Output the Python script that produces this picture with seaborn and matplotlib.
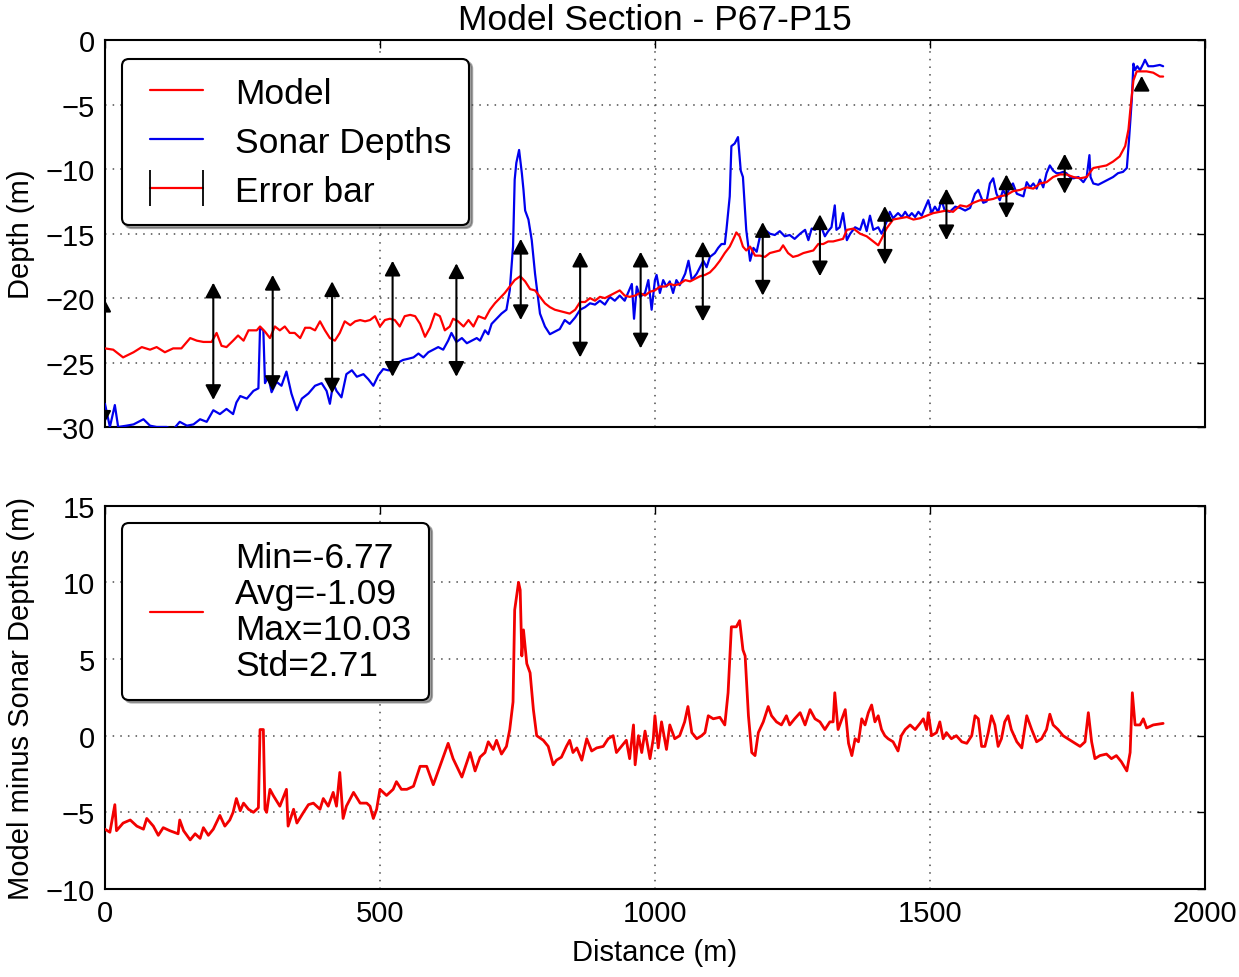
import matplotlib
matplotlib.use("Agg")
import matplotlib.pyplot as plt
from matplotlib.lines import Line2D
import numpy as np
import pandas as pd
import seaborn as sns

# ---------------- data ----------------
model_x = [0, 15, 33, 52, 67, 82, 94, 109, 124, 139, 155, 167, 179, 194, 203, 212, 221, 233, 242, 252,
           261, 270, 276, 282, 291, 300, 309, 318, 327, 336, 345, 355, 364, 373, 382, 391, 400, 409, 418, 427,
           436, 446, 455, 464, 473, 482, 491, 500, 509, 518, 527, 536, 545, 555, 564, 573, 582, 591, 600, 609,
           618, 627, 633, 642, 652, 661, 670, 679,
           691, 700, 709, 718, 727, 736, 745, 755, 764, 773, 782, 791, 800, 809, 818, 827, 836, 845, 855, 864,
           873, 882, 891, 900, 909, 918, 927, 936, 945, 954, 964, 973, 982, 991, 1000, 1009, 1018, 1027, 1036, 1045,
           1055, 1064, 1073, 1082, 1091, 1100, 1109, 1118, 1127, 1136, 1145, 1148, 1154, 1160, 1166, 1173, 1182, 1191, 1200, 1209,
           1218, 1227, 1233, 1242, 1251, 1260, 1270, 1279, 1288, 1297, 1306, 1315, 1324, 1333, 1342,
           1349, 1361, 1373, 1385, 1397, 1406, 1412, 1421, 1433, 1445, 1458, 1470, 1482, 1494, 1506, 1518, 1530, 1542, 1555, 1567,
           1579, 1591, 1603, 1615, 1627, 1639, 1651, 1664, 1676, 1688, 1700, 1712, 1724, 1736, 1748, 1761, 1773, 1785, 1797, 1809,
           1821, 1833, 1845, 1855, 1861, 1865, 1870, 1876, 1882, 1894, 1906, 1918, 1924]
model_depth = [-23.9, -24.0, -24.6, -24.2, -23.8, -24.0, -23.8, -24.2, -23.9, -23.9, -23.1, -23.3, -23.4, -23.4, -22.7, -23.7, -23.8, -23.3, -22.9, -23.3,
               -22.5, -22.5, -22.5, -22.2, -22.6, -23.1, -22.2, -22.5, -22.2, -22.7, -22.7, -23.1, -22.3, -22.3, -22.5, -21.8, -22.5, -23.1, -23.3, -22.7,
               -21.8, -22.1, -21.8, -21.7, -21.8, -21.7, -21.4, -22.2, -21.7, -21.6, -21.7, -22.2, -21.4, -21.3, -21.4, -22.0, -23.0, -22.3, -21.2, -21.4,
               -22.5, -22.2, -21.6, -21.8, -22.2, -21.7, -22.2, -21.4,
               -21.6, -20.9, -20.4, -20.0, -19.6, -19.1, -18.6, -18.3, -18.7, -19.3, -19.4, -19.9, -20.4, -20.7, -20.9, -21.0, -21.1, -21.2, -20.9, -20.3,
               -20.3, -20.0, -20.2, -19.9, -20.0, -19.8, -19.6, -19.4, -19.8, -19.9, -19.8, -19.6, -19.8, -19.5, -19.4, -19.1, -19.1, -18.9, -19.0, -18.9,
               -18.6, -18.7, -18.5, -18.3, -18.2, -18.0, -17.6, -17.1, -16.5, -16.0, -15.2, -14.9, -15.2, -16.0, -16.3, -16.0, -16.7, -16.7, -16.8, -16.5,
               -16.4, -16.3, -15.9, -16.5, -16.8, -16.7, -16.5, -16.4, -16.3, -15.8, -15.8, -15.6, -15.6, -15.5, -15.4,
               -14.7, -14.6, -15.0, -15.2, -15.6, -15.9, -15.4, -14.6, -13.9, -13.8, -13.7, -13.9, -13.8, -13.6, -13.4, -13.3, -13.2, -13.3, -12.8, -12.9,
               -12.6, -12.4, -12.4, -12.3, -12.1, -12.0, -11.7, -11.6, -11.4, -11.5, -11.1, -11.0, -10.6, -10.4, -10.4, -10.6, -10.7, -10.6, -9.9, -9.8,
               -9.7, -9.4, -9.0, -8.2, -6.9, -5.1, -3.1, -2.4, -2.4, -2.4, -2.5, -2.8, -2.8]

sonar_x = [0, 9, 18, 24, 39, 52, 70, 82, 94, 112, 124, 136, 149, 161, 173, 185, 197, 209, 221, 233,
           239, 246, 258, 270, 279, 282, 288, 291, 297, 303, 312, 321, 330, 339, 349, 358, 370, 382, 394, 403,
           409, 415, 421, 430, 439, 449, 458, 470, 479, 488, 497, 506, 515, 524, 533, 542, 552, 561, 570, 579,
           588, 597, 606, 615, 624, 630, 639, 649, 658, 667, 676,
           682, 691, 697, 703, 712, 721, 730, 736, 742, 745, 748, 753, 758, 761, 764, 770, 776, 782, 791, 800,
           809, 818, 827, 836, 845, 855, 864, 873, 882, 891, 900, 909, 918, 927, 936, 945, 951, 958, 962, 967,
           973, 982, 988, 994, 1000, 1003, 1009, 1015, 1021, 1027, 1033, 1039, 1045, 1055, 1061, 1067, 1076, 1082, 1088, 1094,
           1100, 1109, 1115, 1121, 1127, 1130, 1136, 1139, 1145, 1151, 1156, 1160, 1166, 1173, 1179, 1185, 1191, 1197, 1203, 1209,
           1218, 1227, 1236, 1245, 1254, 1264, 1273, 1279, 1285, 1291, 1300, 1309, 1315, 1321, 1327, 1330, 1336, 1342,
           1349, 1355, 1364, 1373, 1379, 1385, 1391, 1397, 1406, 1412, 1421, 1427, 1433, 1442, 1449, 1455, 1461, 1467, 1473, 1479,
           1485, 1491, 1497, 1503, 1509, 1515, 1521, 1527, 1536, 1546, 1555, 1564, 1573, 1582, 1588, 1597, 1603, 1609, 1615, 1621,
           1627, 1633, 1639, 1645, 1651, 1658, 1664, 1670, 1676, 1682, 1688, 1694, 1700, 1706, 1712, 1718, 1724, 1730, 1736, 1742,
           1748, 1755, 1761, 1770, 1779, 1785, 1790, 1792, 1797, 1806, 1815, 1824, 1833, 1842, 1851, 1858, 1862, 1867, 1870, 1873,
           1877, 1882, 1888, 1891, 1897, 1906, 1918, 1924]
sonar_depth = [-28.2, -30.0, -28.3, -30.0, -29.9, -29.8, -29.4, -29.9, -30.0, -30.0, -30.2, -29.6, -29.9, -29.8, -29.4, -29.6, -28.7, -29.0, -28.6, -29.0,
               -28.1, -27.6, -27.8, -27.2, -27.0, -22.3, -22.5, -26.6, -26.1, -27.3, -26.5, -26.8, -25.7, -27.4, -28.7, -27.8, -27.4, -26.8, -26.6, -27.2,
               -28.2, -26.6, -27.2, -27.7, -25.9, -25.6, -26.1, -25.9, -26.3, -26.8, -26.0, -25.5, -25.6, -25.6, -25.0, -24.8, -24.7, -24.6, -24.3, -24.6,
               -24.2, -24.0, -23.8, -24.0, -23.3, -22.7, -23.4, -23.1, -23.5, -23.3, -23.1,
               -23.3, -22.5, -22.8, -22.0, -21.6, -21.2, -20.9, -19.4, -16.0, -10.8, -9.5, -8.5, -10.3, -11.6, -13.2, -13.9, -15.5, -18.1, -21.2, -22.2,
               -22.8, -22.6, -22.4, -21.7, -22.0, -21.5, -20.9, -20.7, -20.4, -20.5, -20.2, -20.5, -19.9, -20.2, -19.8, -20.2, -19.6, -18.9, -21.6, -19.1,
               -19.9, -19.6, -18.6, -20.9, -18.6, -18.2, -19.6, -18.6, -19.1, -18.7, -19.6, -18.6, -19.0, -18.1, -17.1, -18.6, -18.1, -17.6, -17.1, -17.6,
               -16.8, -16.5, -16.1, -15.8, -15.8, -14.7, -12.1, -8.2, -8.0, -7.5, -10.1, -10.6, -14.7, -17.1, -16.1, -16.4, -15.2, -15.2, -14.8, -15.0,
               -15.1, -14.8, -15.2, -15.1, -15.4, -15.0, -14.7, -15.5, -14.6, -14.7, -14.2, -15.2, -14.8, -14.5, -12.8, -14.7, -14.5, -13.4,
               -15.5, -15.0, -14.5, -14.7, -13.9, -14.8, -13.6, -14.7, -14.5, -15.0, -14.1, -13.3, -13.8, -13.4, -13.7, -13.3, -13.7, -13.4, -13.7, -13.3,
               -13.6, -13.0, -12.4, -13.4, -12.9, -13.3, -12.4, -13.2, -13.3, -12.9, -13.0, -13.2, -13.0, -11.9, -11.6, -12.6, -12.5, -11.1, -10.7, -11.9,
               -12.4, -11.6, -12.1, -11.4, -11.1, -11.9, -12.0, -12.1, -11.0, -11.4, -11.1, -11.5, -10.8, -11.4, -10.3, -9.7, -10.1, -10.3, -10.3, -10.2,
               -10.3, -10.6, -10.7, -10.6, -11.0, -10.6, -8.9, -10.6, -11.1, -11.2, -11.0, -10.8, -10.6, -10.3, -10.2, -9.9, -7.7, -4.6, -1.8, -2.3,
               -2.0, -2.3, -1.8, -1.5, -2.0, -2.0, -1.9, -2.0]

diff_x = [0, 9, 18, 21, 33, 46, 58, 70, 76, 88, 97, 106, 118, 133, 136, 143, 155, 164, 173, 179,
          188, 197, 209, 218, 227, 233, 239, 246, 252, 261, 270, 279, 282, 288, 291, 294, 300, 306, 318, 330,
          333, 343, 349, 361, 370, 379, 391, 397, 406, 415, 421, 427, 433, 439, 452, 464, 476, 482, 488, 494,
          500, 512, 524, 530, 539, 549, 561, 573, 585, 597, 609, 624, 633, 649, 664, 673, 682,
          691, 697, 706, 712, 721, 730, 736, 742, 745, 752, 755, 758, 761, 767, 773, 779, 785, 797, 806, 815,
          821, 830, 839, 845, 851, 858, 867, 876, 885, 894, 906, 915, 924, 930, 939, 948, 954, 961, 964, 970,
          976, 982, 991, 997, 1000, 1006, 1012, 1021, 1027, 1036, 1045, 1054, 1060, 1067, 1076, 1085, 1091, 1097, 1106, 1118,
          1127, 1133, 1139, 1148, 1154, 1160, 1164, 1170, 1176, 1182, 1188, 1197, 1206, 1212, 1221, 1230, 1239, 1245, 1254, 1264,
          1273, 1282, 1291, 1300, 1309, 1318, 1324, 1327, 1333,
          1336, 1346, 1352, 1358, 1364, 1370, 1376, 1382, 1388, 1394, 1400, 1406, 1412, 1418, 1424, 1433, 1442, 1448, 1455, 1464,
          1473, 1482, 1488, 1494, 1497, 1503, 1512, 1518, 1524, 1530, 1539, 1548, 1558, 1567, 1576, 1582, 1588, 1594, 1600, 1606,
          1612, 1618, 1624, 1630, 1636, 1642, 1648, 1658, 1667, 1676, 1685, 1694, 1703, 1712, 1718, 1724, 1733, 1742, 1755, 1764,
          1773, 1782, 1788, 1794, 1800, 1809, 1821, 1830, 1839, 1848, 1858, 1864, 1868, 1873, 1882, 1888, 1894, 1906, 1924]
diff_val = [-6.1, -6.3, -4.5, -6.2, -5.7, -5.5, -5.9, -6.1, -5.4, -5.9, -6.5, -6.0, -6.2, -6.4, -5.5, -6.2, -6.8, -6.4, -6.7, -6.0,
            -6.5, -6.1, -5.2, -5.9, -5.5, -5.0, -4.1, -4.9, -4.4, -4.8, -5.0, -4.7, 0.4, 0.4, -4.8, -5.0, -3.5, -3.9, -4.6, -3.5,
            -5.9, -4.8, -5.7, -5.0, -4.5, -4.4, -4.8, -4.1, -4.6, -3.7, -4.6, -2.4, -5.4, -4.6, -3.7, -4.4, -4.4, -4.6, -5.4, -4.8,
            -3.5, -3.9, -3.5, -3.0, -3.5, -3.5, -3.3, -2.0, -2.0, -3.2, -2.0, -0.5, -1.5, -2.7, -1.1, -2.3, -1.4,
            -1.1, -0.4, -0.9, -0.3, -1.2, -0.7, 0.4, 2.2, 8.2, 10.0, 9.5, 5.2, 6.9, 4.7, 4.1, 1.7, 0.0, -0.3, -0.7, -1.9,
            -1.6, -1.4, -0.7, -0.3, -1.1, -0.8, -1.6, -0.2, -1.0, -0.8, -0.7, -0.2, 0.0, -1.1, -0.7, -0.3, -1.5, 0.7, -1.9, 0.0,
            -1.1, 0.3, -1.5, -0.2, 1.3, -0.8, 0.9, -0.9, 0.7, -0.2, 0.0, 0.9, 1.9, 0.2, -0.2, 0.0, 0.2, 1.3, 1.1, 1.2,
            0.7, 2.8, 7.1, 7.1, 7.5, 5.6, 5.2, 1.3, -1.1, -1.3, 0.2, 0.9, 1.9, 1.3, 0.9, 0.7, 1.3, 0.7, 1.1, 1.5,
            0.7, 1.7, 1.1, 0.9, 0.4, 0.9, 0.9, 2.8, 0.4,
            0.7, 1.7, -0.5, -1.3, -0.2, -0.4, 1.1, 0.7, 1.5, 2.0, 0.9, 1.3, 0.4, 0.0, -0.2, -0.4, -1.0, 0.0, 0.4, 0.7,
            0.4, 0.8, 1.1, 0.4, 1.5, 0.0, 0.2, 0.9, -0.2, 0.2, -0.2, 0.0, -0.4, -0.5, 0.0, 1.3, 1.1, -0.7, -0.7, 0.2,
            1.3, 0.7, -0.7, -0.2, 0.9, 1.3, 0.4, -0.4, -0.8, 1.3, 0.4, -0.4, -0.2, 0.4, 1.4, 0.7, 0.4, 0.0, -0.3, -0.5,
            -0.7, -0.4, 1.5, -0.4, -1.5, -1.3, -1.2, -1.5, -1.3, -1.7, -2.3, -1.1, 2.8, 0.7, 0.7, 1.1, 0.5, 0.7, 0.8]

errbar_x = [-3, 197, 305, 413, 523, 639, 756, 864, 974, 1087, 1196, 1300, 1418, 1530, 1639, 1745, 1885]
errbar_top = [-19.9, -18.8, -18.2, -18.7, -17.1, -17.3, -15.4, -16.4, -16.4, -15.6, -14.1, -13.5, -12.85, -11.5, -10.4, -8.8, -2.75]
errbar_bottom = [-29.9, -27.9, -27.2, -27.4, -26.1, -26.1, -21.7, -24.6, -23.9, -21.8, -19.8, -18.3, -17.4, -15.5, -13.8, -11.9, -3.7]

legend_labels = ["Model", "Sonar Depths", "Error bar"]
stats_label = "Min=-6.77\nAvg=-1.09\nMax=10.03\nStd=2.71"
title_text = "Model Section - P67-P15"

# ---------------- styling ----------------
sns.set_theme(style="white")
plt.rcParams["font.family"] = ["Liberation Sans", "DejaVu Sans"]
plt.rcParams["axes.unicode_minus"] = True
for key in ("text.color", "axes.labelcolor", "xtick.color", "ytick.color", "axes.edgecolor"):
    plt.rcParams[key] = "black"

RED = "#ff0000"
BLUE = "#0000ee"

fig = plt.figure(figsize=(12.39, 9.78), dpi=100)
ax1 = fig.add_axes([0.0847, 0.5624, 0.8878, 0.3952])
ax2 = fig.add_axes([0.0847, 0.0900, 0.8878, 0.3919])

df_model = pd.DataFrame({"Distance": model_x, "Depth": model_depth})
df_sonar = pd.DataFrame({"Distance": sonar_x, "Depth": sonar_depth})
df_diff = pd.DataFrame({"Distance": diff_x, "Diff": diff_val})

sns.lineplot(data=df_sonar, x="Distance", y="Depth", ax=ax1, color=BLUE, lw=1.6,
             estimator=None, sort=False, zorder=3)
sns.lineplot(data=df_model, x="Distance", y="Depth", ax=ax1, color=RED, lw=1.6,
             estimator=None, sort=False, zorder=4)

for xv, t, b in zip(errbar_x, errbar_top, errbar_bottom):
    # very short bars only show their upper head
    style = "<|-|>" if (t - b) > 1.5 else "-|>"
    ann = ax1.annotate("", xy=(xv, t), xytext=(xv, b), xycoords="data", textcoords="data",
                       annotation_clip=False,
                       arrowprops=dict(arrowstyle=style + ",head_length=0.45,head_width=0.24",
                                       mutation_scale=20, color="black", lw=1.5,
                                       shrinkA=0, shrinkB=0), zorder=6)
    ann.arrow_patch.set_clip_path(ax1.patch)

sns.lineplot(data=df_diff, x="Distance", y="Diff", ax=ax2, color="#f20000", lw=2.0,
             estimator=None, sort=False, zorder=3)

for ax in (ax1, ax2):
    ax.set_xlim(0, 2000)
    ax.set_xticks(np.arange(0, 2001, 500))
    ax.grid(True, linestyle=(0, (1, 4)), color="0.3", lw=1.1)
    ax.set_axisbelow(True)
    ax.tick_params(direction="in", top=True, right=True, length=6, width=1.0,
                   labelsize=21, pad=7, colors="black")
    for s in ax.spines.values():
        s.set_linewidth(1.5)
        s.set_color("black")

ax1.set_ylim(-30, 0)
ax1.set_yticks(np.arange(-30, 1, 5))
ax1.tick_params(labelbottom=False)
ax1.set_xlabel("")
ax1.set_ylabel("Depth (m)", fontsize=21, labelpad=8, color="black")
ax1.set_title(title_text, fontsize=25.5, pad=8, color="black")

ax2.set_ylim(-10, 15)
ax2.set_yticks(np.arange(-10, 16, 5))
ax2.set_xlabel("Distance (m)", fontsize=21, labelpad=8, color="black")
ax2.set_ylabel("Model minus Sonar Depths (m)", fontsize=21, labelpad=8, color="black")

# legends
h_model = Line2D([], [], color=RED, lw=1.6)
h_sonar = Line2D([], [], color=BLUE, lw=1.6)
h_err = Line2D([], [], color=RED, lw=1.6, marker="|", markersize=26,
               markeredgecolor="black", markeredgewidth=1.3)
leg1 = ax1.legend([h_model, h_sonar, h_err], legend_labels, loc="upper left",
                  bbox_to_anchor=(0.0155, 0.952), borderaxespad=0, fontsize=25.5,
                  frameon=True, fancybox=True, shadow=True, numpoints=2,
                  handlelength=2.1, handletextpad=0.6, labelspacing=0.45, borderpad=0.5)
leg1.get_frame().set_edgecolor("black")
leg1.get_frame().set_linewidth(1.5)
leg1.get_frame().set_alpha(1)
for t in leg1.get_texts():
    t.set_color("black")

h_diff = Line2D([], [], color=RED, lw=1.6)
leg2 = ax2.legend([h_diff], [stats_label], loc="upper left", numpoints=2,
                  bbox_to_anchor=(0.0155, 0.955), borderaxespad=0, fontsize=25.5,
                  frameon=True, fancybox=True, shadow=True,
                  handlelength=2.1, handletextpad=0.6, borderpad=0.5)
for t in leg2.get_texts():
    t.set_linespacing(1.12)
    t.set_color("black")
leg2.get_frame().set_edgecolor("black")
leg2.get_frame().set_linewidth(1.5)
leg2.get_frame().set_alpha(1)

fig.savefig("out.png", dpi=100, facecolor="white")
